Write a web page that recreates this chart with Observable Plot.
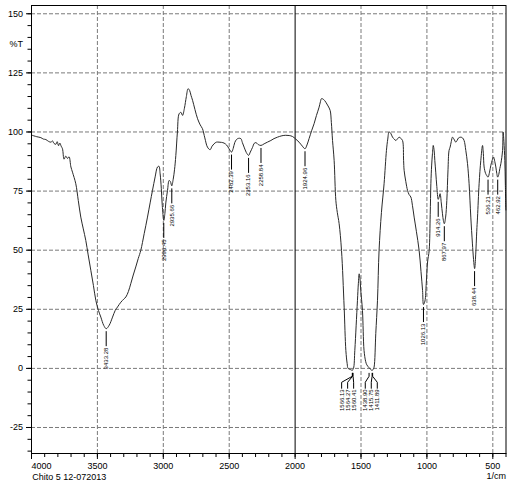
<!DOCTYPE html>
<html>
<head>
<meta charset="utf-8">
<script src="https://cdn.jsdelivr.net/npm/d3@7"></script>
<script src="https://cdn.jsdelivr.net/npm/@observablehq/plot@0.6"></script>
<style>
  html, body { margin: 0; padding: 0; background: #fff; }
  #chart svg { display: block; }
</style>
</head>
<body>
<div id="chart"></div>
<script>
// ---- Spectrum (wavenumber 1/cm, %T) ----
const wavenumber = [
  3995,3960,3929,3910,3891,3870,3853,3840,3830,3815,3805,3795,3785,3775,3765,3753,3740,3727,3715,3701,
  3689,3664,3645,3626,3607,3588,3570,3550,3530,3512,3492,3474,3452,3433,3410,3385,3365,3347,3322,3300,
  3284,3265,3247,3228,3209,3190,3171,3145,3120,3100,3082,3062,3044,3033,3024,3015,3008,2996,2988,2981,
  2968,2956,2946,2936,2925,2915,2905,2893,2880,2866,2854,2840,2825,2812,2800,2790,2778,2760,2740,2720,
  2703,2685,2665,2645,2630,2615,2597,2577,2558,2539,2520,2501,2482,2470,2458,2445,2430,2412,2400,2387,
  2370,2353,2340,2323,2310,2298,2280,2259,2235,2210,2184,2160,2134,2100,2071,2045,2020,1995,1970,1945,
  1925,1910,1894,1875,1856,1838,1818,1808,1800,1785,1767,1750,1734,1725,1716,1704,1691,1680,1666,1648,
  1628,1615,1605,1598,1580,1566,1557,1547,1537,1527,1520,1514,1508,1502,1489,1477,1465,1456,1439,1418,
  1408,1401,1388,1375,1363,1345,1325,1307,1297,1287,1275,1261,1248,1236,1222,1211,1198,1185,1177,1173,
  1160,1147,1135,1122,1110,1097,1080,1059,1045,1033,1026,1015,1005,995,983,975,970,964,958,952,
  945,940,933,925,914,907,900,891,882,875,868,858,849,840,832,824,815,806,795,781,
  770,760,743,730,718,705,692,680,667,655,646,638,630,622,616,604,591,578,572,566,
  555,545,536,525,515,505,495,485,477,470,463,455,447,439,426,422,416,409,405,401
];
const transmittance = [
  98.6,98.0,97.6,97.0,96.8,96.0,95.7,96.2,95.2,94.8,95.9,94.2,95.3,94.0,92.9,88.5,89.8,88.8,89.5,85.2,
  83.0,78.1,71.0,64.0,59.0,54.1,48.0,41.5,35.0,28.8,24.5,21.7,18.2,16.8,18.3,21.7,24.5,26.0,28.0,29.3,
  30.2,32.5,35.8,39.5,42.9,46.5,49.9,57.0,64.0,70.0,75.3,81.0,85.2,85.5,82.3,76.0,69.0,62.6,65.5,70.0,
  75.3,79.5,79.0,77.2,80.0,84.0,90.0,100.0,107.7,108.3,107.0,110.0,115.0,118.3,117.5,115.5,113.4,109.5,105.6,103.0,
  101.4,97.5,93.6,92.5,94.0,95.0,95.7,95.7,95.6,95.3,94.5,92.9,91.5,93.0,95.5,96.8,97.3,97.2,95.5,93.6,
  91.3,90.1,91.5,93.5,95.2,95.5,94.7,94.3,95.0,95.7,96.4,97.2,97.8,98.4,98.6,98.5,98.1,97.0,95.7,94.0,
  92.9,94.5,97.2,100.5,103.5,107.0,110.5,112.8,114.1,113.8,112.6,111.0,109.1,104.0,96.4,88.0,71.1,66.0,61.2,49.9,
  25.9,7.6,2.0,0.0,-0.5,-0.8,0.0,7.6,18.0,28.8,36.0,40.0,38.0,33.0,24.5,7.6,3.0,1.5,0.3,-0.8,
  -0.5,0.5,14.7,28.8,49.9,66.0,78.1,92.2,97.0,100.0,99.5,97.8,97.0,96.4,97.2,97.8,97.3,96.4,88.0,83.8,
  79.0,75.3,73.5,72.5,69.0,64.0,58.0,49.9,41.0,33.0,27.0,28.5,36.0,45.0,49.9,65.0,78.1,86.0,90.8,94.3,
  92.0,88.0,83.0,77.0,71.5,72.5,73.9,70.0,65.4,62.5,61.2,64.0,71.0,84.0,92.2,93.6,96.0,97.8,97.0,95.7,
  96.5,97.5,97.8,97.5,96.4,92.2,86.6,78.1,64.0,53.0,46.0,42.2,48.0,58.0,64.0,78.1,88.0,94.3,91.0,85.2,
  82.5,81.5,80.9,83.0,85.9,88.0,89.4,87.5,85.2,82.5,80.9,82.0,84.5,86.6,92.2,100.0,96.0,88.0,78.0,67.0
];

// ---- Peak labels (single leader) ----
const peakWn    = [3433.28, 2996.45, 2935.66, 2482.39, 2353.16, 2258.84, 1924.96, 1026.13, 914.26, 867.97, 638.44, 536.21, 462.92];
const peakT     = [16.8, 62.6, 77.2, 91.5, 90.1, 94.3, 92.9, 27.0, 71.5, 61.2, 42.2, 80.9, 80.9];
const peakLabel = ["3433.28", "2996.45", "2935.66", "2482.39", "2353.16", "2258.84", "1924.96", "1026.13", "914.26", "867.97", "638.44", "536.21", "462.92"];

// ---- Peak labels in the two saturated bands (fanned leaders) ----
const bandWn    = [1566.13, 1564.27, 1560.41, 1438.90, 1415.75, 1411.89];
const bandT     = [-0.8, -0.8, -0.8, -0.8, -0.8, -0.8];
const bandGroup = [0, 0, 0, 1, 1, 1];
const bandLabel = ["1566.13", "1564.27", "1560.41", "1438.90", "1415.75", "1411.89"];

// ---- Axes ----
const xMajor = [4000, 3500, 3000, 2500, 2000, 1500, 1000, 500];
const xGrid  = [3500, 3000, 2500, 1500, 1000, 500];
const xMinor = d3.range(4000, 399, -100);
const yMajor = [-25, 0, 25, 50, 75, 100, 125, 150];
const yMinor = d3.range(-35, 151, 5);
const yTitle = "%T", yTitleAt = 137;
const xTitle = "1/cm";
const caption = "Chito 5 12-072013";

// ---- Layout ----
const W = 520, H = 484, mT = 5, mB = 31, mL = 31, mR = 14.5;
const xDom = [4000, 400], yDom = [-36, 153.5];
const kx = (xDom[0] - xDom[1]) / (W - mL - mR);  // wavenumber per pixel
const ky = (yDom[1] - yDom[0]) / (H - mT - mB);  // %T per pixel

const spectrum = wavenumber.map((w, i) => ({w, T: transmittance[i]}));
const peaks = peakWn.map((w, i) => ({w, T: peakT[i], label: peakLabel[i]}));

// fanned label positions for the bands (pixel offsets from group centre)
const fan = [[-11, -5, 1], [-6, 0, 6]];
const bands = bandWn.map((w, i) => {
  const g = bandGroup[i];
  const members = bandWn.filter((_, j) => bandGroup[j] === g);
  const centre = d3.mean(members);
  const k = bandWn.slice(0, i).filter((_, j) => bandGroup[j] === g).length;
  return {w, T: bandT[i], label: bandLabel[i], lw: centre - fan[g][k] * kx, id: i};
});
const leaders = bands.flatMap(b => [
  {id: b.id, x: b.w,  y: b.T - 3 * ky},
  {id: b.id, x: b.w,  y: b.T - 6 * ky},
  {id: b.id, x: b.lw, y: b.T - 12 * ky},
  {id: b.id, x: b.lw, y: b.T - 18 * ky}
]);

const gridStyle = {stroke: "#7a7a7a", strokeOpacity: 1, strokeWidth: 1, strokeDasharray: "4,2"};

const chart = Plot.plot({
  width: W, height: H,
  marginTop: mT, marginBottom: mB, marginLeft: mL, marginRight: mR,
  style: {fontFamily: "'Liberation Sans', Arial, sans-serif", fontSize: "9px", background: "#fff", color: "#000"},
  x: {domain: xDom},
  y: {domain: yDom},
  marks: [
    Plot.gridX(xGrid, gridStyle),
    Plot.gridY(yMajor, gridStyle),
    Plot.ruleX([2000], {stroke: "#000", strokeWidth: 1}),
    Plot.line(spectrum, {x: "w", y: "T", stroke: "#2a2a2a", strokeWidth: 1, curve: "catmull-rom"}),
    Plot.frame({stroke: "#000", strokeWidth: 1}),
    // x axis
    Plot.axisX(xMinor, {tickSize: 4, tickFormat: () => "", label: null}),
    Plot.axisX(xMajor.filter(d => d !== 4000), {tickSize: 6, tickPadding: 3.3, tickFormat: d => String(d), label: null}),
    Plot.axisX([4000], {tickSize: 6, tickPadding: 3.3, tickFormat: d => String(d), textAnchor: "start", label: null}),
    // y axis
    Plot.axisY(yMinor, {tickSize: 3.5, tickFormat: () => "", label: null}),
    Plot.axisY(yMajor, {tickSize: 5, tickPadding: 3.5, tickFormat: d => String(d), label: null}),
    Plot.text([yTitle], {text: d => d, y: () => yTitleAt, frameAnchor: "left", textAnchor: "end", dx: -8.5, fontSize: 9}),
    Plot.text([xTitle], {text: d => d, frameAnchor: "bottom-right", textAnchor: "end", lineAnchor: "middle", dy: 23, fontSize: 9}),
    Plot.text([caption], {text: d => d, frameAnchor: "bottom-left", textAnchor: "start", lineAnchor: "middle", dx: 0.7, dy: 23.5, fontSize: 9}),
    // peak labels
    Plot.ruleX(peaks, {x: "w", y1: d => d.T - 3 * ky, y2: d => d.T - 18 * ky, stroke: "#000", strokeWidth: 1}),
    Plot.text(peaks, {x: "w", y: "T", text: "label", rotate: -90, textAnchor: "end", lineAnchor: "middle", dy: 19, fontSize: 6, fill: "#000"}),
    Plot.line(leaders, {x: "x", y: "y", z: "id", stroke: "#000", strokeWidth: 1}),
    Plot.text(bands, {x: "lw", y: "T", text: "label", rotate: -90, textAnchor: "end", lineAnchor: "middle", dy: 19, fontSize: 6, fill: "#000"})
  ]
});
document.getElementById("chart").append(chart);
</script>
</body>
</html>
